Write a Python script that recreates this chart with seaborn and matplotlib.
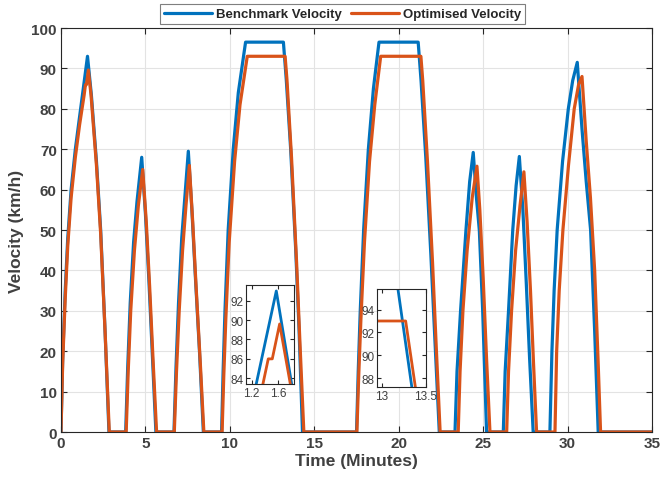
import matplotlib
matplotlib.use("Agg")
import matplotlib.pyplot as plt
import seaborn as sns
import pandas as pd

# ---- data (time in minutes, velocity in km/h) ----
blue_t = [0, 0.1, 0.25, 0.4, 0.6, 0.85, 1.1, 1.27, 1.57, 1.80, 2.1, 2.35, 2.6, 2.84,
          3.83, 3.95, 4.1, 4.3, 4.5, 4.78, 5.0, 5.2, 5.4, 5.62,
          6.69, 6.81, 6.96, 7.15, 7.35, 7.54, 7.75, 7.95, 8.2, 8.43,
          9.51, 9.6, 9.71, 9.9, 10.2, 10.5, 10.93, 13.17, 13.34, 13.6, 13.9, 14.1, 14.3,
          17.5, 17.6, 17.72, 17.92, 18.2, 18.5, 18.83, 21.15, 21.32, 21.6, 21.9, 22.15, 22.4,
          23.33, 23.45, 23.66, 23.98, 24.2, 24.41, 24.6, 24.77, 24.97, 25.2,
          26.19, 26.3, 26.5, 26.75, 26.95, 27.14, 27.35, 27.55, 27.75, 27.96,
          28.95, 29.07, 29.2, 29.38, 29.7, 30.04, 30.3, 30.57, 30.85, 31.1, 31.36, 31.6, 31.81,
          35]
blue_v = [0, 18, 35, 48, 60, 70, 78, 83.4, 93, 83.4, 67, 50, 26, 0,
          0, 16, 32, 47, 57, 68, 54, 38, 20, 0,
          0, 16, 32, 48, 59, 69.5, 55, 39, 20, 0,
          0, 15, 30, 50, 70, 84, 96.5, 96.5, 87.2, 70, 45, 25, 0,
          0, 15, 30, 50, 70, 85, 96.5, 96.5, 87, 68, 44, 22, 0,
          0, 15, 30, 50, 62, 69.2, 58, 50, 30, 0,
          0, 15, 30, 50, 61, 68.2, 55, 37, 18, 0,
          0, 20, 35, 50, 67, 80, 87, 91.5, 75, 62, 50, 25, 0,
          0]

red_t = [0, 0.1, 0.25, 0.4, 0.6, 0.85, 1.1, 1.37, 1.45, 1.51, 1.62, 1.78, 2.1, 2.35, 2.62, 2.86,
         3.86, 3.98, 4.13, 4.35, 4.58, 4.84, 5.05, 5.25, 5.45, 5.66,
         6.71, 6.84, 7.0, 7.2, 7.4, 7.6, 7.8, 8.0, 8.25, 8.46,
         9.54, 9.64, 9.76, 9.96, 10.28, 10.6, 11.03, 13.27, 13.38, 13.65, 13.95, 14.15, 14.38,
         17.52, 17.63, 17.76, 17.97, 18.27, 18.58, 18.93, 21.31, 21.42, 21.7, 22.0, 22.22, 22.45,
         23.52, 23.63, 23.8, 24.05, 24.35, 24.63, 24.8, 25.0, 25.2, 25.4,
         26.39, 26.5, 26.68, 26.92, 27.18, 27.41, 27.6, 27.8, 27.98, 28.16,
         29.25, 29.35, 29.5, 29.72, 30.05, 30.39, 30.65, 30.85, 31.1, 31.35, 31.6, 31.8, 31.95,
         35]
red_v = [0, 17, 33, 46, 58, 68, 76, 83.4, 86, 86, 89.6, 83.4, 66, 49, 24, 0,
         0, 15, 30, 45, 56, 65, 52, 36, 18, 0,
         0, 15, 30, 45, 56, 66, 52, 36, 17, 0,
         0, 14, 28, 47, 67, 81, 93, 93, 87.2, 68, 42, 22, 0,
         0, 14, 28, 47, 67, 81, 93, 93, 87, 67, 42, 21, 0,
         0, 15, 30, 45, 58, 65.8, 55, 38, 18, 0,
         0, 15, 30, 45, 56, 64.4, 52, 35, 17, 0,
         0, 20, 35, 50, 66, 80, 86, 88, 72, 58, 40, 18, 0,
         0]

series_names = ["Benchmark Velocity", "Optimised Velocity"]
x_ticks = [0, 5, 10, 15, 20, 25, 30, 35]
y_ticks = [0, 10, 20, 30, 40, 50, 60, 70, 80, 90, 100]
inset1_xticks = [1.2, 1.6]
inset1_yticks = [84, 86, 88, 90, 92]
inset2_xticks = [13, 13.5]
inset2_yticks = [88, 90, 92, 94]

BLUE = "#0072BD"
RED = "#D95319"
TXT = "#404040"

sns.set_style("ticks")
plt.rcParams["font.family"] = ["Liberation Sans", "DejaVu Sans"]

df_b = pd.DataFrame({"t": blue_t, "v": blue_v})
df_r = pd.DataFrame({"t": red_t, "v": red_v})

fig = plt.figure(figsize=(6.6, 4.85), dpi=100)
ax = fig.add_axes([0.0924, 0.1072, 0.8956, 0.833])


def draw(a, lw):
    sns.lineplot(data=df_b, x="t", y="v", ax=a, sort=False, estimator=None,
                 color=BLUE, linewidth=lw, label=series_names[0], legend=False)
    sns.lineplot(data=df_r, x="t", y="v", ax=a, sort=False, estimator=None,
                 color=RED, linewidth=lw, label=series_names[1], legend=False)


def style(a, labelsize, bold):
    for s in a.spines.values():
        s.set_color("#262626")
        s.set_linewidth(0.8)
    a.tick_params(direction="in", top=True, right=True, length=4, width=0.8,
                  colors="#262626", labelcolor=TXT, labelsize=labelsize, pad=3)
    for lab in a.get_xticklabels() + a.get_yticklabels():
        lab.set_fontweight("bold" if bold else "normal")
    a.grid(True, color="#e3e3e3", linewidth=0.8)
    a.set_axisbelow(True)


draw(ax, 2.3)
ax.set_xlim(0, 35)
ax.set_ylim(0, 100)
ax.set_xticks(x_ticks)
ax.set_yticks(y_ticks)
style(ax, 11, True)
ax.set_xlabel("Time (Minutes)", fontsize=12.5, fontweight="bold", color=TXT, labelpad=2)
ax.set_ylabel("Velocity (km/h)", fontsize=12.5, fontweight="bold", color=TXT, labelpad=5)

leg = fig.legend(handles=ax.get_lines()[:2], labels=series_names, loc="upper center",
                 bbox_to_anchor=(0.519, 1.0), ncol=2, frameon=True, fancybox=False,
                 edgecolor="#7f7f7f", framealpha=1, handlelength=3.6, borderpad=0.3,
                 columnspacing=0.75, handletextpad=0.3, borderaxespad=0.4,
                 prop={"weight": "bold", "size": 9.5, "family": ["Liberation Sans", "DejaVu Sans"]})
leg.get_frame().set_linewidth(0.8)
for t in leg.get_texts():
    t.set_color("#262626")

# inset 1
ax1 = fig.add_axes([0.373, 0.206, 0.073, 0.204])
draw(ax1, 2.0)
ax1.set_xlim(1.12, 1.84)
ax1.set_ylim(83.4, 93.6)
ax1.set_xticks(inset1_xticks)
ax1.set_yticks(inset1_yticks)
style(ax1, 8.5, False)
ax1.grid(False)
ax1.set_xlabel("")
ax1.set_ylabel("")
ax1.tick_params(pad=2, length=3)

# inset 2
ax2 = fig.add_axes([0.5717, 0.1994, 0.0738, 0.2027])
draw(ax2, 2.0)
ax2.set_xlim(12.95, 13.5)
ax2.set_ylim(87.2, 95.8)
ax2.set_xticks(inset2_xticks)
ax2.set_xticklabels(["13", "13.5"])
ax2.set_yticks(inset2_yticks)
style(ax2, 8.5, False)
ax2.grid(False)
ax2.set_xlabel("")
ax2.set_ylabel("")
ax2.tick_params(pad=2, length=3)

fig.savefig("out.png", dpi=100)
